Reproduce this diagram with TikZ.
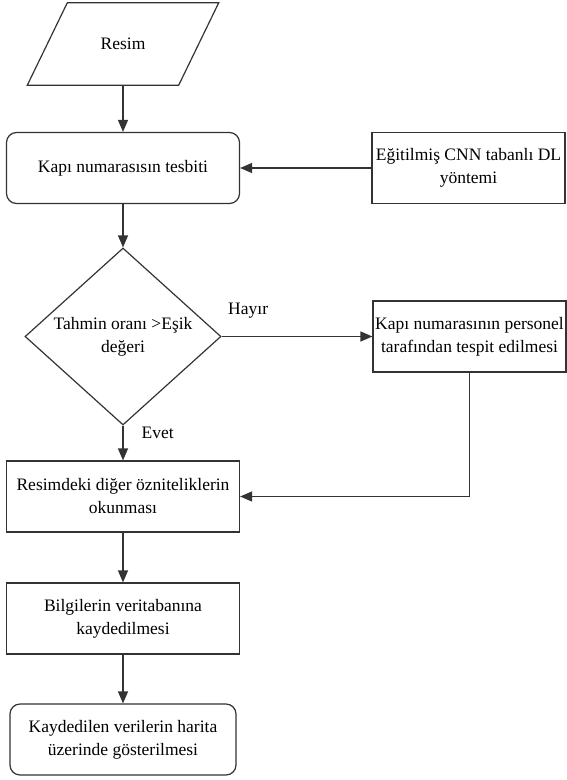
\documentclass[tikz,border=0pt]{standalone}
\usepackage{fontspec}
\setmainfont{LiberationSerif}[Extension=.ttf,UprightFont=*-Regular,BoldFont=*-Bold]
\usetikzlibrary{arrows.meta,positioning,shapes.geometric}
\definecolor{LineGray}{HTML}{333333}
\newcommand{\flowfont}{\fontsize{17.5}{23}\selectfont}
\tikzset{
  flowbox/.style={draw=LineGray,line width=1.2pt,align=center,font=\flowfont,
    minimum width=233pt,minimum height=71pt,inner sep=1pt},
  roundbox/.style={flowbox,rounded corners=10pt},
  sidebox/.style={flowbox,minimum width=193pt},
  inputbox/.style={font=\flowfont,minimum width=191pt,minimum height=82pt,inner sep=0pt},
  inputedge/.style={draw=LineGray,line width=1.2pt},
  decisionbox/.style={draw=LineGray,line width=1.2pt,diamond,align=center,font=\flowfont,
    aspect=1.1,minimum width=196pt,minimum height=177pt,inner sep=0pt},
  flowarrow/.style={-{Triangle[length=12pt,width=10pt]},line width=1.3pt,draw=LineGray},
  flowlabel/.style={font=\flowfont,inner sep=0pt}
}

\begin{document}
\begin{tikzpicture}[x=1pt,y=-1pt]
  \useasboundingbox (0,0) rectangle (567,780);

  \node[inputbox] (resim) at (123,44) {Resim};
  \draw[inputedge] ([xshift=40pt]resim.north west) -- (resim.north east)
    -- ([xshift=-40pt]resim.south east) -- (resim.south west) -- cycle;
  \node[roundbox] (tespit) at (123,168) {Kapı numarasısın tesbiti};
  \node[sidebox] (cnn) at (468.5,168) {Eğitilmiş CNN tabanlı DL\\yöntemi};

  \node[decisionbox] (karar) at (123,336.5) {Tahmin oranı >Eşik\\değeri};
  \node[sidebox] (personel) at (469.5,336.5) {Kapı numarasının personel\\tarafından tespit edilmesi};

  \node[flowbox] (okuma) at (123,496.5) {Resimdeki diğer özniteliklerin\\okunması};
  \node[flowbox] (kayit) at (123,618.5) {Bilgilerin veritabanına\\kaydedilmesi};
  \node[roundbox,minimum width=226pt] (harita) at (123,739.5) {Kaydedilen verilerin harita\\üzerinde gösterilmesi};

  \draw[flowarrow] (resim) -- (tespit);
  \draw[flowarrow] (cnn) -- (tespit);
  \draw[flowarrow] (tespit) -- (karar);
  \draw[flowarrow] (karar) -- node[flowlabel,pos=0,anchor=west,xshift=6pt,yshift=26pt] {Hayır} (personel);
  \draw[flowarrow] (karar) -- node[flowlabel,pos=0.22,anchor=west,xshift=18pt] {Evet} (okuma);
  \draw[flowarrow] (personel.south) |- (okuma.east);
  \draw[flowarrow] (okuma) -- (kayit);
  \draw[flowarrow] (kayit) -- (harita);
\end{tikzpicture}
\end{document}
